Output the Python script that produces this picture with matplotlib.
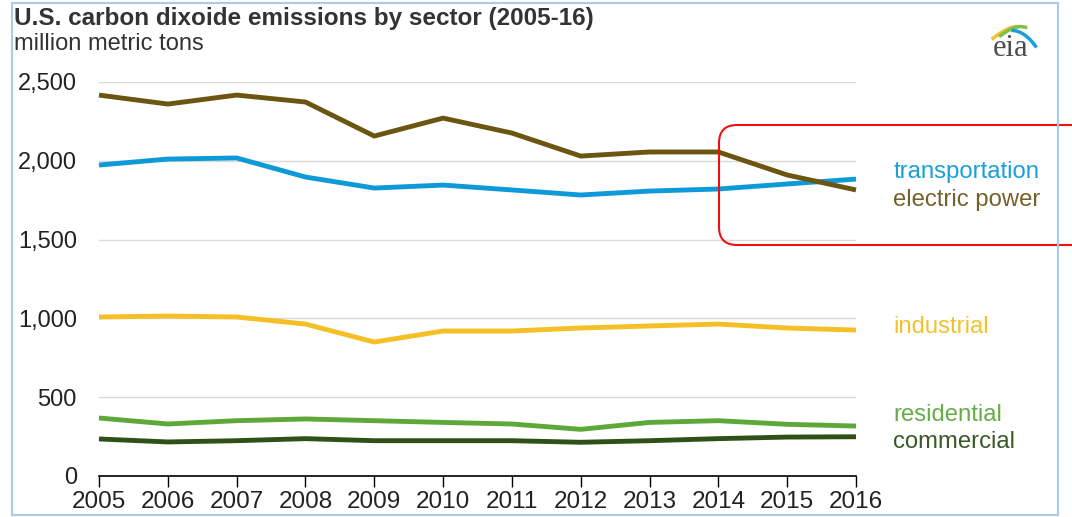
import numpy as np
import matplotlib
matplotlib.use("Agg")
import matplotlib.pyplot as plt
from matplotlib.patches import FancyBboxPatch, Rectangle
from matplotlib.transforms import IdentityTransform

plt.rcParams['font.family'] = ['Liberation Sans', 'DejaVu Sans']

years = list(range(2005, 2017))
electric_power = [2417, 2360, 2417, 2373, 2157, 2271, 2176, 2030, 2056, 2056, 1910, 1815]
transportation = [1973, 2011, 2018, 1897, 1827, 1846, 1815, 1783, 1808, 1821, 1853, 1884]
industrial = [1009, 1015, 1009, 964, 850, 920, 920, 939, 952, 964, 939, 926]
residential = [368, 330, 351, 362, 351, 340, 330, 296, 340, 351, 328, 317]
commercial = [235, 216, 224, 237, 224, 224, 224, 214, 224, 237, 247, 249]

series = [
    ("transportation", transportation, "#0e9ad8", "#1a9fdc", 1929),
    ("electric power", electric_power, "#6b5510", "#76612a", 1751),
    ("industrial", industrial, "#f4c025", "#f2c12e", 945),
    ("residential", residential, "#5ea83a", "#65ad47", 387),
    ("commercial", commercial, "#2d5117", "#385a26", 216),
]

W, H = 1072, 517
fig = plt.figure(figsize=(W / 100, H / 100), dpi=100)
ax = fig.add_axes([99 / W, (H - 476) / H, (856 - 99) / W, (476 - 82) / H])

for name, vals, col, tcol, ylab in series:
    ax.plot(years, vals, color=col, lw=3.5, solid_capstyle='butt', clip_on=False, zorder=3)
    ax.text(2016.54, ylab, name, color=tcol, fontsize=17.2, va='center', ha='left')

ax.set_xlim(2005, 2016)
ax.set_ylim(0, 2500)
ax.set_yticks([0, 500, 1000, 1500, 2000, 2500])
ax.set_yticklabels(["0", "500", "1,000", "1,500", "2,000", "2,500"])
ax.set_xticks(years)
ax.grid(axis='y', color='#d9d9d9', lw=1)
ax.set_axisbelow(True)
for s in ['top', 'right', 'left']:
    ax.spines[s].set_visible(False)
ax.spines['bottom'].set_color('black')
ax.spines['bottom'].set_linewidth(1.2)
ax.tick_params(axis='y', length=0, pad=16, labelsize=17, labelcolor='#222222')
ax.tick_params(axis='x', length=8, width=1, direction='out', pad=3,
               labelsize=17.5, labelcolor='#222222')

fig.text(14 / W, 1 - 19 / H, "U.S. carbon dixoide emissions by sector (2005-16)",
         fontsize=17.5, fontweight='bold', color='#333333', va='center', ha='left')
fig.text(14 / W, 1 - 44 / H, "million metric tons", fontsize=17,
         color='#333333', va='center', ha='left')

# eia logo
fig.text(1011 / W, 1 - 49 / H, "eia", fontsize=22, family='Liberation Serif',
         color='#4d4d4d', ha='center', va='center')
lax = fig.add_axes([988 / W, 1 - 50 / H, 50 / W, 26 / H])
lax.set_xlim(0, 1)
lax.set_ylim(0, 1)
lax.axis('off')
t = np.linspace(0, 1, 40)
lax.plot(0.1 + 0.5 * t, 0.45 + 0.45 * np.sin(t * np.pi / 2), color='#f2c12e', lw=2.5)
lax.plot(0.25 + 0.5 * t, 0.55 + 0.35 * np.sin(t * np.pi / 1.6), color='#7cbf4a', lw=2.5)
lax.plot(0.5 + 0.45 * t, 0.75 - 0.05 * t - 0.55 * t ** 2, color='#1a9fdc', lw=2.5)

# red highlight box
box = FancyBboxPatch((719, H - 245), 420, 120, boxstyle="round,pad=0,rounding_size=18",
                     transform=IdentityTransform(), fill=False, edgecolor='#ee1111', lw=1.5)
fig.add_artist(box)

# outer frame
frame = Rectangle((12, H - 515), 1046, 512, transform=IdentityTransform(),
                  fill=False, edgecolor='#a8cbe8', lw=1.5)
fig.add_artist(frame)

fig.savefig("out.png", dpi=100)
